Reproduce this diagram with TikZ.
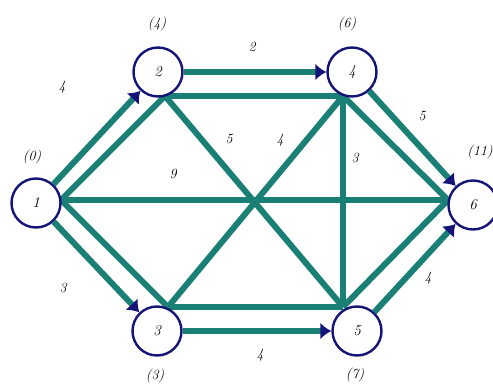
\documentclass[tikz,border=0pt]{standalone}
\usetikzlibrary{arrows.meta,backgrounds}
\definecolor{teal1}{HTML}{1A8075}
\definecolor{navy1}{HTML}{141478}
\tikzset{
  vnode/.style={circle,draw=navy1,line width=2.4pt,fill=white,minimum size=49pt,inner sep=0pt,
     font=\fontsize{15}{15}\selectfont\itshape},
  lbl/.style={font=\fontsize{14}{14}\selectfont\itshape,text=black},
  link/.style={draw=teal1,line width=6pt},
  arc/.style={draw=teal1,line width=6pt,-{Latex[length=11pt,width=17pt,color=navy1]}},
}
\begin{document}
\begin{tikzpicture}[x=1pt,y=-1pt]
\useasboundingbox (0,0) rectangle (493,385);
\node[vnode] (n1) at (36,203) {1};
\node[vnode] (n2) at (158,72) {2};
\node[vnode] (n4) at (352,72) {4};
\node[vnode] (n3) at (157,331) {3};
\node[vnode] (n5) at (357,331) {5};
\node[vnode] (n6) at (473,205) {6};
\coordinate (j1) at (61,200);
\coordinate (j2) at (165,96);
\coordinate (j4) at (343,96);
\coordinate (j3) at (168,307);
\coordinate (j5) at (343,307);
\coordinate (j6) at (448,200);
\begin{scope}[on background layer]
\draw[link] (j1) -- (j2);
\draw[link] (j1) -- (j3);
\draw[link] (j1) -- (j6);
\draw[link] (j2) -- (j4);
\draw[link] (j2) -- (j5);
\draw[link] (j3) -- (j4);
\draw[link] (j3) -- (j5);
\draw[link] (j4) -- (j5);
\draw[link] (j4) -- (j6);
\draw[link] (j5) -- (j6);
\end{scope}
\draw[arc] (n1) -- (n2);
\draw[arc] (n2) -- (n4);
\draw[arc] (n4) -- (n6);
\draw[arc] (n1) -- (n3);
\draw[arc] (n3) -- (n5);
\draw[arc] (n5) -- (n6);
% time labels
\node[lbl] (t1) at (32,157) {(0)};
\node[lbl] (t2) at (157,24) {(4)};
\node[lbl] (t4) at (347,24) {(6)};
\node[lbl] (t6) at (480,152) {(11)};
\node[lbl] (t3) at (155,376) {(3)};
\node[lbl] (t5) at (355,375) {(7)};
% weights
\node[lbl] (w12) at (62,87) {4};
\node[lbl] (w24) at (252,47) {2};
\node[lbl] (w46) at (422,116) {5};
\node[lbl] (w13) at (63,288) {3};
\node[lbl] (w35) at (260,355) {4};
\node[lbl] (w56) at (428,278) {4};
\node[lbl] (wa) at (173,174) {9};
\node[lbl] (wb) at (229,139) {5};
\node[lbl] (wc) at (280,140) {4};
\node[lbl] (wd) at (355,158) {3};
\end{tikzpicture}
\end{document}
